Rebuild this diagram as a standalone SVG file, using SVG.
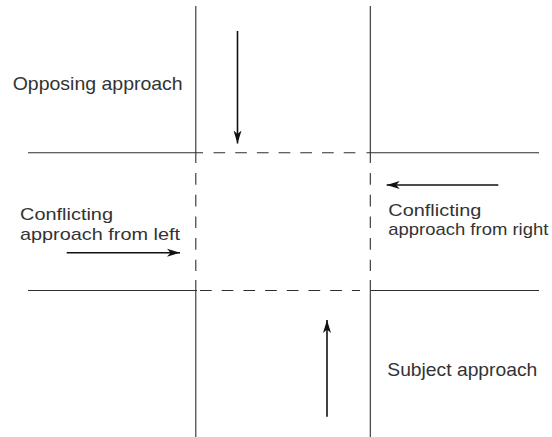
<svg xmlns="http://www.w3.org/2000/svg" width="552" height="437" viewBox="0 0 552 437">
  <defs>
    <style>
      .road { stroke: #2e2e2e; stroke-width: 1.1; fill: none; }
      .dash { stroke: #2e2e2e; stroke-width: 1.1; fill: none; stroke-dasharray: 11.7 10; }
      .arrow { stroke: #111; stroke-width: 1.6; fill: none; }
      .label { font-family: "Liberation Sans", Arial, sans-serif; font-size: 18.5px; fill: #333333; }
      .small { font-size: 17px; }
    </style>
    <marker id="head" markerUnits="userSpaceOnUse" viewBox="-13 -5 14 10" refX="0" refY="0" markerWidth="14" markerHeight="10" orient="auto">
      <path d="M0,0 L-13,-4 L-9.5,0 L-13,4 Z" fill="#111"/>
    </marker>
  </defs>
  <rect width="552" height="437" fill="#ffffff"/>

  <g id="roads">
    <line class="road" x1="28" y1="152.7" x2="203" y2="152.7"/>
    <line class="road" x1="366.5" y1="152.7" x2="539" y2="152.7"/>
    <line class="road" x1="28" y1="290.5" x2="197" y2="290.5"/>
    <line class="road" x1="370.5" y1="290.5" x2="539" y2="290.5"/>
    <line class="road" x1="195.8" y1="6" x2="195.8" y2="163"/>
    <line class="road" x1="370.3" y1="6" x2="370.3" y2="163"/>
    <line class="road" x1="195.8" y1="280" x2="195.8" y2="437"/>
    <line class="road" x1="370.3" y1="280" x2="370.3" y2="437"/>
  </g>

  <g id="intersection">
    <line class="dash" x1="213.5" y1="152.7" x2="356" y2="152.7"/>
    <line class="dash" x1="200" y1="290.5" x2="360" y2="290.5"/>
    <line class="dash" x1="195.8" y1="173" x2="195.8" y2="271"/>
    <line class="dash" x1="370.3" y1="173" x2="370.3" y2="271"/>
  </g>

  <g id="connectors">
    <line class="arrow" x1="237.5" y1="31" x2="237.5" y2="143.5" marker-end="url(#head)"/>
    <line class="arrow" x1="66.7" y1="252.7" x2="180" y2="252.7" marker-end="url(#head)"/>
    <line class="arrow" x1="498.3" y1="185" x2="386.7" y2="185" marker-end="url(#head)"/>
    <line class="arrow" x1="327" y1="416.7" x2="327" y2="320" marker-end="url(#head)"/>
  </g>

  <g id="opposing">
    <text class="label" x="12.7" y="90" textLength="170" lengthAdjust="spacingAndGlyphs">Opposing approach</text>
  </g>
  <g id="left">
    <text class="label small" x="20" y="220.3" textLength="93" lengthAdjust="spacingAndGlyphs">Conflicting</text>
    <text class="label small" x="20" y="239.9" textLength="160" lengthAdjust="spacingAndGlyphs">approach from left</text>
  </g>
  <g id="right">
    <text class="label small" x="388.3" y="215.6" textLength="93" lengthAdjust="spacingAndGlyphs">Conflicting</text>
    <text class="label small" x="388.3" y="235.2" textLength="160" lengthAdjust="spacingAndGlyphs">approach from right</text>
  </g>
  <g id="subject">
    <text class="label" x="387.3" y="376" textLength="150" lengthAdjust="spacingAndGlyphs">Subject approach</text>
  </g>
</svg>
